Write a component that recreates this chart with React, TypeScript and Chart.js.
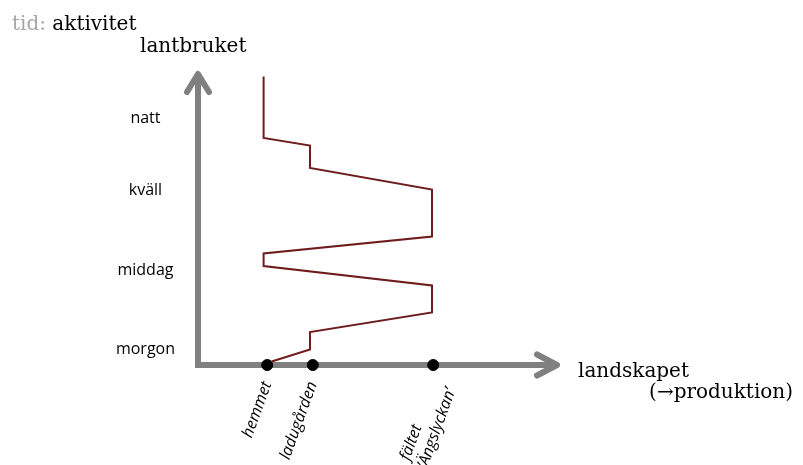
import { useEffect, useRef } from "react";
import { Chart, registerables } from "chart.js";

Chart.register(...registerables);

// Places along the landscape (x axis)
const placeNames: string[][] = [["hemmet"], ["ladugården"], ["fältet", "’Ängslyckan’"]];
const placeX = [17.3, 28.7, 58.8];

// Times of day (y axis)
const timeNames = ["morgon", "middag", "kväll", "natt"];
const timeY = [3.2, 18.9, 35.0, 49.4];

// Activity path through the day
const pathX = [16.4, 16.4, 28, 28, 58.5, 58.5, 16.4, 16.4, 58.5, 58.5, 28, 28, 18.4];
const pathY = [57.7, 45.4, 43.9, 39.4, 35.1, 25.7, 22.3, 19.8, 15.9, 10.5, 6.6, 3.1, 0.7];

const X_MAX = 90.5;
const Y_MAX = 59;

const SERIF = "'DejaVu Serif', 'Liberation Serif', serif";
const SANS = "'Open Sans', 'Noto Sans', sans-serif";
const X_TICK_FONT = { family: SANS, size: 16, style: "italic" as const };

const axisArrows = {
  id: "axisArrows",
  beforeDatasetsDraw(chart: any) {
    const { ctx, scales } = chart;
    const x = scales.x;
    const y = scales.y;
    const x0 = x.getPixelForValue(0);
    const y0 = y.getPixelForValue(0);
    const xt = x.getPixelForValue(X_MAX);
    const yt = y.getPixelForValue(Y_MAX);
    ctx.save();
    ctx.strokeStyle = "#808080";
    ctx.lineWidth = 6;
    ctx.lineCap = "butt";
    ctx.lineJoin = "miter";
    ctx.beginPath();
    ctx.moveTo(x0, yt + 4);
    ctx.lineTo(x0, y0);
    ctx.lineTo(xt - 4, y0);
    ctx.stroke();
    ctx.lineCap = "round";
    ctx.lineJoin = "round";
    ctx.beginPath();
    ctx.moveTo(x0 - 11, yt + 22);
    ctx.lineTo(x0, yt + 4);
    ctx.lineTo(x0 + 11, yt + 22);
    ctx.stroke();
    ctx.beginPath();
    ctx.moveTo(xt - 23, y0 - 10.5);
    ctx.lineTo(xt - 3, y0);
    ctx.lineTo(xt - 23, y0 + 10.5);
    ctx.stroke();
    ctx.restore();
  },
  afterDraw(chart: any) {
    const { ctx, scales } = chart;
    const x = scales.x;
    const y = scales.y;
    const x0 = x.getPixelForValue(0);
    const y0 = y.getPixelForValue(0);
    const xt = x.getPixelForValue(X_MAX);
    const yt = y.getPixelForValue(Y_MAX);
    ctx.save();
    ctx.font = `20px ${SERIF}`;
    ctx.textBaseline = "alphabetic";
    ctx.textAlign = "left";
    // Title
    ctx.fillStyle = "#a6a6a6";
    ctx.fillText("tid: ", 12, 30);
    const w = ctx.measureText("tid: ").width;
    ctx.fillStyle = "#000000";
    ctx.fillText("aktivitet", 12 + w, 30);
    // y axis title
    ctx.fillText("lantbruket", x0 - 58, yt - 18);
    // x axis title
    ctx.fillText("landskapet", xt + 18, y0 + 12);
    ctx.textAlign = "right";
    ctx.fillText("(→produktion)", xt + 233, y0 + 33);
    ctx.restore();
  },
};

// pad shorter lines of a multi-line rotated label so that the lines start together
function padLines(scale: any, lines: string[]): string[] {
  if (lines.length < 2) return lines;
  const ctx: CanvasRenderingContext2D = scale.ctx;
  ctx.save();
  ctx.font = `italic ${X_TICK_FONT.size}px ${X_TICK_FONT.family}`;
  const widths = lines.map((l) => ctx.measureText(l).width);
  const maxW = Math.max(...widths);
  const sp = ctx.measureText("\u00a0").width || 4;
  ctx.restore();
  return lines.map((l, i) => l + "\u00a0".repeat(Math.max(0, Math.round((maxW - widths[i]) / sp))));
}

export default function App() {
  const ref = useRef<HTMLCanvasElement | null>(null);

  useEffect(() => {
    if (!ref.current) return;
    const chart = new Chart(ref.current, {
      type: "scatter",
      data: {
        datasets: [
          {
            type: "line",
            data: pathX.map((v, i) => ({ x: v, y: pathY[i] })),
            borderColor: "#6e1c1c",
            borderWidth: 2,
            pointRadius: 0,
            tension: 0,
            fill: false,
          } as any,
          {
            data: placeX.map((v) => ({ x: v, y: 0 })),
            backgroundColor: "#000000",
            borderColor: "#000000",
            pointRadius: 5.5,
            pointHoverRadius: 5.5,
            clip: false,
          } as any,
        ],
      },
      options: {
        responsive: false,
        animation: false,
        events: [],
        layout: { padding: { left: 0, top: 70, right: 243, bottom: 0 } },
        plugins: {
          legend: { display: false },
          tooltip: { enabled: false },
          title: { display: false },
        },
        scales: {
          x: {
            type: "linear",
            min: 0,
            max: X_MAX,
            grid: { display: false, drawTicks: false },
            border: { display: false },
            afterBuildTicks: (scale: any) => {
              scale.ticks = placeX.map((v) => ({ value: v }));
            },
            afterFit: (scale: any) => {
              scale.height = 100;
            },
            ticks: {
              autoSkip: false,
              minRotation: 70,
              maxRotation: 70,
              padding: 14,
              color: "#000000",
              font: X_TICK_FONT,
              callback: function (this: any, _v: any, i: number) {
                return padLines(this, placeNames[i]);
              },
            },
          },
          y: {
            type: "linear",
            min: 0,
            max: Y_MAX,
            grid: { display: false, drawTicks: false },
            border: { display: false },
            afterBuildTicks: (scale: any) => {
              scale.ticks = timeY.map((v) => ({ value: v }));
            },
            afterFit: (scale: any) => {
              scale.width = 198;
            },
            ticks: {
              autoSkip: false,
              crossAlign: "center",
              padding: 23,
              color: "#000000",
              font: { family: SANS, size: 16 },
              callback: (_v: any, i: number) => timeNames[i],
            },
          },
        },
      },
      plugins: [axisArrows],
    });
    return () => chart.destroy();
  }, []);

  return (
    <div style={{ position: "absolute", left: 0, top: 0, width: 803, height: 465, background: "#fff" }}>
      <canvas ref={ref} width={803} height={465} />
    </div>
  );
}
